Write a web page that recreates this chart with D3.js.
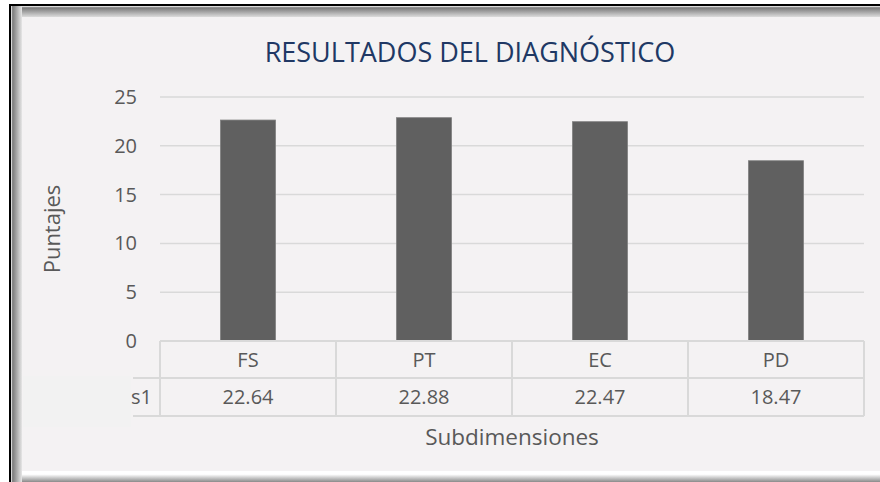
<!DOCTYPE html>
<html>
<head>
<meta charset="utf-8">
<script src="https://cdn.jsdelivr.net/npm/d3@7"></script>
<style>
  html, body { margin: 0; padding: 0; background: #ffffff; }
  svg { display: block; font-family: "Open Sans", "Noto Sans", sans-serif; }
</style>
</head>
<body>
<div id="chart"></div>
<script>
// Data
var categories = ["FS", "PT", "EC", "PD"];
var values = [22.64, 22.88, 22.47, 18.47];
var yTicks = [0, 5, 10, 15, 20, 25];
var seriesName = "Series1";

var W = 880, H = 482;

var svg = d3.select("#chart").append("svg")
    .attr("width", W)
    .attr("height", H);

// Frame (bevelled border like the screenshot)
var defs = svg.append("defs");
var gTop = defs.append("linearGradient").attr("id", "bevTop")
    .attr("x1", 0).attr("y1", 0).attr("x2", 0).attr("y2", 1);
gTop.append("stop").attr("offset", "0%").attr("stop-color", "#ffffff");
gTop.append("stop").attr("offset", "15%").attr("stop-color", "#7a7a7a");
gTop.append("stop").attr("offset", "100%").attr("stop-color", "#e6e6e6");
var gLeft = defs.append("linearGradient").attr("id", "bevLeft")
    .attr("x1", 0).attr("y1", 0).attr("x2", 1).attr("y2", 0);
gLeft.append("stop").attr("offset", "0%").attr("stop-color", "#ffffff");
gLeft.append("stop").attr("offset", "15%").attr("stop-color", "#7a7a7a");
gLeft.append("stop").attr("offset", "100%").attr("stop-color", "#e6e6e6");
var gBot = defs.append("linearGradient").attr("id", "bevBot")
    .attr("x1", 0).attr("y1", 0).attr("x2", 0).attr("y2", 1);
gBot.append("stop").attr("offset", "0%").attr("stop-color", "#ffffff");
gBot.append("stop").attr("offset", "30%").attr("stop-color", "#ffffff");
gBot.append("stop").attr("offset", "100%").attr("stop-color", "#8a8a8a");

svg.append("rect").attr("x", 9).attr("y", 4).attr("width", W).attr("height", H)
    .attr("fill", "#000");
svg.append("rect").attr("x", 11).attr("y", 6).attr("width", W).attr("height", 12)
    .attr("fill", "url(#bevTop)");
svg.append("rect").attr("x", 11).attr("y", 6).attr("width", 11).attr("height", H)
    .attr("fill", "url(#bevLeft)");
svg.append("rect").attr("x", 22).attr("y", 471).attr("width", W).attr("height", 11)
    .attr("fill", "url(#bevBot)");
svg.append("rect").attr("x", 22).attr("y", 17).attr("width", W).attr("height", 454)
    .attr("fill", "#f4f2f3");

// Plot area
var plot = {left: 160, right: 864, top: 97, bottom: 341};

var x = d3.scaleBand()
    .domain(categories)
    .range([plot.left, plot.right])
    .paddingInner(0)
    .paddingOuter(0);

var y = d3.scaleLinear()
    .domain([0, 25])
    .range([plot.bottom, plot.top]);

// Gridlines
svg.append("g")
    .selectAll("line")
    .data(yTicks.filter(function(d) { return d > 0; }))
    .enter().append("line")
    .attr("x1", plot.left).attr("x2", plot.right)
    .attr("y1", function(d) { return y(d); })
    .attr("y2", function(d) { return y(d); })
    .attr("stroke", "#d9d9d9")
    .attr("stroke-width", 1.5);

// Y axis labels
var yAxis = d3.axisLeft(y).tickValues(yTicks).tickSize(0).tickPadding(23);
var yg = svg.append("g")
    .attr("transform", "translate(" + plot.left + ",0)")
    .call(yAxis);
yg.select(".domain").remove();
yg.selectAll("text")
    .attr("fill", "#595959")
    .style("font-size", "20px")
    .style("font-family", "'Open Sans', sans-serif");

// Bars
var barW = x.bandwidth() * 0.3125;
svg.append("g")
    .selectAll("rect")
    .data(values)
    .enter().append("rect")
    .attr("x", function(d, i) { return x(categories[i]) + x.bandwidth() / 2 - barW / 2; })
    .attr("y", function(d) { return y(d); })
    .attr("width", barW)
    .attr("height", function(d) { return y(0) - y(d); })
    .attr("fill", "#606060")
    .attr("stroke", "#7f7f7f")
    .attr("stroke-width", 0.8);

// Data table
var row1 = 341, row2 = 378, row3 = 416;
var tbl = svg.append("g")
    .attr("stroke", "#d9d9d9")
    .attr("stroke-width", 2);
tbl.append("line").attr("x1", plot.left).attr("x2", plot.right)
    .attr("y1", row1).attr("y2", row1);
tbl.append("line").attr("x1", 133).attr("x2", plot.right)
    .attr("y1", row2).attr("y2", row2);
tbl.append("line").attr("x1", 133).attr("x2", plot.right)
    .attr("y1", row3).attr("y2", row3);
tbl.selectAll("line.v")
    .data(categories.concat(["end"]))
    .enter().append("line")
    .attr("class", "v")
    .attr("x1", function(d, i) { return plot.left + i * x.bandwidth(); })
    .attr("x2", function(d, i) { return plot.left + i * x.bandwidth(); })
    .attr("y1", row1).attr("y2", row3);

svg.append("g")
    .selectAll("text")
    .data(categories)
    .enter().append("text")
    .attr("x", function(d) { return x(d) + x.bandwidth() / 2; })
    .attr("y", (row1 + row2) / 2)
    .attr("dy", "0.36em")
    .attr("text-anchor", "middle")
    .attr("fill", "#595959")
    .style("font-size", "20px")
    .text(function(d) { return d; });

svg.append("g")
    .selectAll("text")
    .data(values)
    .enter().append("text")
    .attr("x", function(d, i) { return x(categories[i]) + x.bandwidth() / 2; })
    .attr("y", (row2 + row3) / 2)
    .attr("dy", "0.36em")
    .attr("text-anchor", "middle")
    .attr("fill", "#595959")
    .style("font-size", "20px")
    .text(function(d) { return d.toFixed(2); });

// Series label, mostly hidden behind a patch
svg.append("text")
    .attr("x", 152)
    .attr("y", (row2 + row3) / 2)
    .attr("dy", "0.36em")
    .attr("text-anchor", "end")
    .attr("fill", "#595959")
    .style("font-size", "20px")
    .text(seriesName);
svg.append("rect")
    .attr("x", 23).attr("y", 376)
    .attr("width", 108).attr("height", 51)
    .attr("fill", "#f2f2f2");

// Titles
svg.append("text")
    .attr("x", 470)
    .attr("y", 62)
    .attr("text-anchor", "middle")
    .attr("fill", "#203864")
    .style("font-size", "27px")
    .text("RESULTADOS DEL DIAGNÓSTICO");

svg.append("text")
    .attr("x", 512)
    .attr("y", 445)
    .attr("text-anchor", "middle")
    .attr("fill", "#595959")
    .style("font-size", "22.5px")
    .text("Subdimensiones");

svg.append("text")
    .attr("transform", "translate(60,229) rotate(-90)")
    .attr("text-anchor", "middle")
    .attr("fill", "#595959")
    .style("font-size", "22px")
    .text("Puntajes");
</script>
</body>
</html>
